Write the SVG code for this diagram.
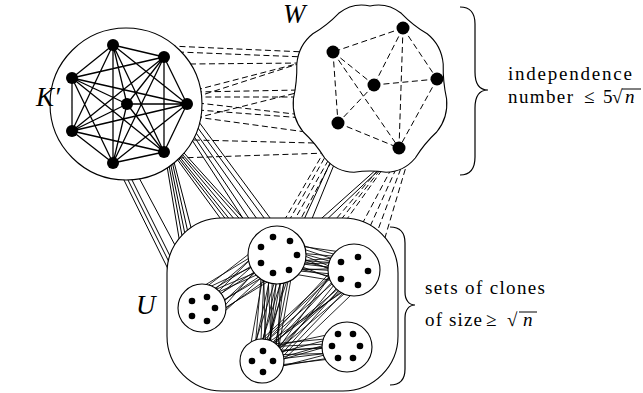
<svg xmlns="http://www.w3.org/2000/svg" width="643" height="393" viewBox="0 0 643 393">
<style>
.sol{stroke:#000;stroke-width:1;fill:none}
.dash{stroke:#000;stroke-width:1;stroke-dasharray:6 3.5;fill:none}
.shape{fill:#fff;stroke:#000;stroke-width:1.1}
.dot{fill:#000}
.kedge{stroke:#000;stroke-width:1.3;fill:none}
.bun{stroke:#000;stroke-width:0.85;fill:none}
.brace{stroke:#000;stroke-width:1.2;fill:none}
text{font-family:"Liberation Serif","Times New Roman",serif;fill:#000}
.lab{font-style:italic;font-size:27px}
.note{font-size:19px}
.it{font-style:italic}
</style>

<g id="connectors">
  <path id="K-W" class="dash" d="M170,46L305,52 M178,52L305,57 M190,64L304,63 M196,90L304,62 M196,97L304,62 M196,92L300,90 M196,97L298,97 M198,103L303,115 M198,110L304,118 M196,118L300,92 M196,117L306,132 M194,140L314,143 M178,158L328,153"/>
  <path id="K-U" class="sol" d="M120,172L170,273 M124,172L173,270 M128,172L176,268 M137,174L184,262 M166,160L182,256 M168,160L185,252 M170,161L188,249 M172,161L191,246 M174,162L195,243 M174,155L226,226 M176,155L231,226 M178,155L235,226 M180,154L240,226 M182,154L246,226 M184,153L250,226 M196,118L276,226 M195,124L270,226 M194,130L262,226 M193,135L254,226 M192,140L248,226"/>
  <path id="W-U-dashed" class="dash" d="M325,150L281,226 M329,150L286,226 M333,152L291,226 M336,153L297,226 M378,170L330,226 M380,170L336,226 M382,170L342,226 M396,160L360,228 M400,160L368,231 M404,160L376,235 M408,160L384,241"/>
  <path id="W-U-solid" class="sol" d="M336,150L301,226 M340,150L309,226 M378,168L313,226 M381,168L320,226"/>
</g>

<g id="Kprime">
  <circle class="shape" cx="126" cy="104" r="76"/>
  <path class="kedge" d="M113,45L164,57 M113,45L187,104 M113,45L164,152 M113,45L113,163 M113,45L72,131 M113,45L72,78 M113,45L127,104
  M164,57L187,104 M164,57L164,152 M164,57L113,163 M164,57L72,131 M164,57L72,78 M164,57L127,104
  M187,104L164,152 M187,104L113,163 M187,104L72,131 M187,104L72,78 M187,104L127,104
  M164,152L113,163 M164,152L72,131 M164,152L72,78 M164,152L127,104
  M113,163L72,131 M113,163L72,78 M113,163L127,104
  M72,131L72,78 M72,131L127,104
  M72,78L127,104"/>
  <g class="dot">
    <circle cx="113" cy="45" r="6"/><circle cx="164" cy="57" r="6"/><circle cx="187" cy="104" r="6"/><circle cx="164" cy="152" r="6"/>
    <circle cx="113" cy="163" r="6"/><circle cx="72" cy="131" r="6"/><circle cx="72" cy="78" r="6"/><circle cx="127" cy="104" r="6"/>
  </g>
  <text class="lab" x="36" y="106">K′</text>
</g>

<g id="W">
  <path class="shape" d="M370,6 Q387.1,2.1 401.3,13.3 Q413,25.4 427.2,33.8 Q441.4,45.1 443.2,64 Q442.8,81.7 446.6,98.8 Q448.4,117.8 436.7,132 Q424.4,143.4 415.3,158 Q403.5,172.1 386,172.2 Q370,169.8 354,172.2 Q336.5,172.1 324.7,158 Q315.6,143.4 303.3,132 Q291.6,117.8 293.4,98.8 Q297.2,81.7 296.8,64 Q298.6,45.1 312.8,33.8 Q327,25.4 338.7,13.3 Q352.9,2.1 370,6Z"/>
  <path class="dash" d="M403,28L333,52 M403,28L374,85 M403,28L399,148 M403,28L437,79 M333,52L374,85 M333,52L338,123 M333,52L399,148 M374,85L437,79 M374,85L338,123 M437,79L399,148 M338,123L399,148"/>
  <g class="dot">
    <circle cx="403" cy="28" r="6.5"/><circle cx="333" cy="52" r="6.5"/><circle cx="374" cy="85" r="6.5"/>
    <circle cx="437" cy="79" r="6.5"/><circle cx="338" cy="123" r="6.5"/><circle cx="399" cy="148" r="6.5"/>
  </g>
  <text class="lab" x="283" y="23">W</text>
</g>

<g id="U">
  <rect class="shape" x="167" y="218" width="231" height="173" rx="55" ry="55"/>
  <text class="lab" x="136" y="314">U</text>
</g>

<g id="clone-connectors" class="bun">
  <path d="M191.6,293.3L270.1,245.2 M193.9,296.6L266.6,240.3 M196.2,299.8L274.7,251.7 M198.5,303.1L268.9,243.6 M200.8,306.4L278.2,256.6 M203.2,309.6L272.4,248.5 M205.5,312.9L281.6,261.5 M207.8,316.2L275.8,253.4 M210.1,319.4L285.1,266.4 M212.4,322.7L280.5,259.9 M192.8,294.9L277,255 M208.9,317.8L287.4,269.7 M202,308L267.8,241.9 M204.3,311.3L283.9,264.8 M197.4,301.5L282.8,263.2 M211.2,321.1L273.5,250.1 M195.1,298.2L281.6,261.5"/>
  <path d="M280.1,239.3L355.9,260.2 M279.3,243.2L357.1,254.3 M278.5,247.1L354.4,268 M277.8,251.1L356.3,258.2 M277,255L353.2,273.9 M276.2,258.9L355.1,264.1 M275.5,262.9L351.7,281.8 M274.7,266.8L353.6,272 M273.9,270.7L351.3,283.7 M279.7,241.3L354.8,266.1 M278.1,249.1L352.5,277.9 M276.6,257L350.9,285.7 M275.1,264.8L355.5,262.1 M275.9,260.9L354,270 M274.3,268.7L352.9,275.9 M278.9,245.2L352.9,275.9 M275.5,262.9L356.7,256.3 M273.9,270.7L354.4,268"/>
  <path d="M263.1,253L254.1,359.9 M267.1,253.6L248.1,359 M271.1,254.2L262,361 M275,254.7L252.1,359.6 M279,255.3L267.9,361.8 M282.9,255.8L258,360.4 M286.9,256.4L273.9,362.7 M290.9,257L264,361.3 M294.8,257.5L275.9,363 M265.1,253.3L260,360.7 M273,254.4L269.9,362.1 M281,255.6L277.8,363.2 M288.9,256.7L256.1,360.2 M284.9,256.1L266,361.6 M292.8,257.2L271.9,362.4 M263.1,253L266,361.6 M294.8,257.5L260,360.7 M267.1,253.6L271.9,362.4 M282.9,255.8L250.1,359.3"/>
  <path d="M342.8,258.6L255,353.9 M345.6,261.5L250.8,349.6 M348.4,264.3L260.6,359.6 M351.2,267.2L253.6,352.5 M354,270L264.8,363.8 M356.8,272.8L257.8,356.7 M359.6,275.7L270.4,369.5 M362.4,278.5L263.4,362.4 M365.2,281.4L271.8,371 M344.2,260L259.2,358.2 M349.8,265.7L267.6,366.7 M361,277.1L256.4,355.3 M358.2,274.3L262,361 M342.8,258.6L266.2,365.3 M362.4,278.5L253.6,352.5 M355.4,271.4L269,368.1 M347,262.9L252.2,351"/>
  <path d="M259.4,345.2L345.4,337.1 M260,349.2L344.4,331.2 M260.7,353.1L346.7,345 M261.3,357.1L345,335.2 M262,361L347.7,350.9 M262.7,364.9L346,341.1 M263.3,368.9L348.3,354.9 M259.7,347.2L346.3,343.1 M261,355.1L348,352.9 M262.3,363L345.7,339.1 M263.6,370.9L347.3,349 M260.4,351.1L347,347 M263,366.9L348.6,356.9"/>
</g>

<g id="clone1">
  <circle class="shape" cx="277" cy="255" r="29"/>
  <g class="dot"><circle cx="273" cy="237" r="3.3"/><circle cx="290" cy="241" r="3.3"/><circle cx="261" cy="247" r="3.3"/><circle cx="297" cy="255" r="3.3"/><circle cx="261" cy="263" r="3.3"/><circle cx="273" cy="273" r="3.3"/><circle cx="289" cy="270" r="3.3"/></g>
</g>
<g id="clone2">
  <circle class="shape" cx="354" cy="270" r="26"/>
  <g class="dot"><circle cx="341" cy="262" r="3.3"/><circle cx="358" cy="257" r="3.3"/><circle cx="368" cy="271" r="3.3"/><circle cx="341" cy="279" r="3.3"/><circle cx="358" cy="285" r="3.3"/></g>
</g>
<g id="clone3">
  <circle class="shape" cx="202" cy="308" r="24"/>
  <g class="dot"><circle cx="192" cy="301" r="3.3"/><circle cx="207" cy="297" r="3.3"/><circle cx="215" cy="308" r="3.3"/><circle cx="192" cy="316" r="3.3"/><circle cx="207" cy="321" r="3.3"/></g>
</g>
<g id="clone4">
  <circle class="shape" cx="262" cy="361" r="22"/>
  <g class="dot"><circle cx="263" cy="351" r="3.3"/><circle cx="252" cy="361" r="3.3"/><circle cx="273" cy="361" r="3.3"/><circle cx="263" cy="372" r="3.3"/></g>
</g>
<g id="clone5">
  <circle class="shape" cx="347" cy="347" r="25"/>
  <g class="dot"><circle cx="338" cy="334" r="3.3"/><circle cx="353" cy="334" r="3.3"/><circle cx="332" cy="346" r="3.3"/><circle cx="360" cy="346" r="3.3"/><circle cx="338" cy="358" r="3.3"/><circle cx="353" cy="358" r="3.3"/></g>
</g>

<g id="W-brace">
  <path class="brace" d="M460,7 C471,7 475,13 475,24 L475,72 C475,84 480,90 488,90 C480,90 475,96 475,108 L475,157 C475,168 471,175 460,175"/>
  <text class="note" x="508" y="80" textLength="124">independence</text>
  <text class="note" y="103"><tspan x="508" textLength="65">number</tspan><tspan x="584">≤</tspan><tspan x="603">5</tspan><tspan x="612">√</tspan><tspan x="625" class="it">n</tspan></text>
  <line class="sol" x1="622" y1="89" x2="641" y2="89"/>
</g>

<g id="U-brace">
  <path class="brace" d="M390,227 C400,227 405,233 405,243 L405,292 C405,300 409,305 415,305 C409,305 405,310 405,318 L405,369 C405,379 400,385 390,385"/>
  <text class="note" x="425" y="294" textLength="120">sets of clones</text>
  <text class="note" y="326"><tspan x="425" textLength="57">of size</tspan><tspan x="486">≥</tspan><tspan x="507">√</tspan><tspan x="523" class="it">n</tspan></text>
  <line class="sol" x1="519" y1="312" x2="537" y2="312"/>
</g>
</svg>
